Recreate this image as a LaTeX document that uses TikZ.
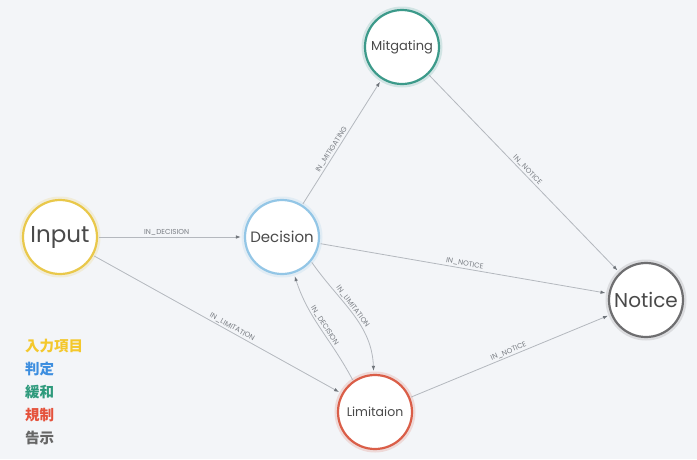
\documentclass[tikz,border=0pt]{standalone}
\usepackage{fontspec}
\setmainfont{Poppins}
\newfontfamily\cjk{Noto Sans CJK JP}
\usetikzlibrary{arrows.meta}
\definecolor{bgc}{HTML}{F3F5F8}
\definecolor{edgec}{HTML}{B4B8BE}
\definecolor{arrowc}{HTML}{6F747A}
\definecolor{lblc}{HTML}{7A7E84}
\definecolor{nodetext}{HTML}{4A4A4A}
\definecolor{inputc}{HTML}{E9C84A}
\definecolor{decisionc}{HTML}{93C6E6}
\definecolor{mitigc}{HTML}{3C9A8A}
\definecolor{limitc}{HTML}{DA5E48}
\definecolor{noticec}{HTML}{6E6E70}
\definecolor{leg1}{HTML}{F4C82C}
\definecolor{leg2}{HTML}{3D8EDF}
\definecolor{leg3}{HTML}{2E9A7C}
\definecolor{leg4}{HTML}{E5523C}
\definecolor{leg5}{HTML}{666666}
\tikzset{
  ent/.style={circle, draw=#1, fill=white, line width=2.2pt, minimum size=74pt,
    inner sep=0pt, text=nodetext,
    preaction={draw=#1, draw opacity=0.18, line width=7pt}},
  rel/.style={draw=edgec, line width=0.8pt,
    -{Latex[length=5pt,width=3.6pt,color=arrowc]},
    shorten >=3pt, shorten <=1pt},
  lbl/.style={font=\fontsize{7.2}{8}\selectfont, text=lblc, sloped, above, inner sep=1.5pt},
  legend/.style={anchor=west, inner sep=0pt, font=\cjk\bfseries\fontsize{14.5}{16}\selectfont}
}
\begin{document}
\begin{tikzpicture}[x=1pt,y=1pt]
  \fill[bgc] (0,0) rectangle (697,-459);
  \useasboundingbox (0,0) rectangle (697,-459);

  % entities
  \node[ent=inputc]    (input)    at (60,-237)  {\fontsize{23}{26}\selectfont Input};
  \node[ent=decisionc] (decision) at (282,-237) {\fontsize{15}{18}\selectfont Decision};
  \node[ent=mitigc]    (mitig)    at (402,-47)  {\fontsize{13}{16}\selectfont Mitgating};
  \node[ent=noticec]   (notice)   at (646,-300) {\fontsize{20}{24}\selectfont Notice};
  \node[ent=limitc]    (limit)    at (375,-412) {\fontsize{12.5}{15}\selectfont Limitaion};

  % relations
  \draw[rel] (input) -- node[lbl,pos=0.47] {IN\_DECISION} (decision);
  \draw[rel] (decision) -- node[lbl,pos=0.42] {IN\_MITIGATING} (mitig);
  \draw[rel] (mitig) -- node[lbl,pos=0.5] {IN\_NOTICE} (notice);
  \draw[rel] (decision) -- node[lbl,pos=0.5] {IN\_NOTICE} (notice);
  \draw[rel] (limit) -- node[lbl,pos=0.5] {IN\_NOTICE} (notice);
  \draw[rel] (input) -- node[lbl,pos=0.55] {IN\_LIMITATION} (limit);
  \draw[rel] (decision.-40) to[out=-55, in=92]
    node[lbl,pos=0.45] {IN\_LIMITATION} (limit.92);
  \draw[rel] (limit.125) to[out=118, in=-72]
    node[lbl,pos=0.5] {IN\_DECISION} (decision.-72);

  % legend
  \node[legend, text=leg1] (l1) at (25,-346) {入力項目};
  \node[legend, text=leg2] (l2) at (25,-369) {判定};
  \node[legend, text=leg3] (l3) at (25,-392) {緩和};
  \node[legend, text=leg4] (l4) at (25,-415) {規制};
  \node[legend, text=leg5] (l5) at (25,-438) {告示};
\end{tikzpicture}
\end{document}
